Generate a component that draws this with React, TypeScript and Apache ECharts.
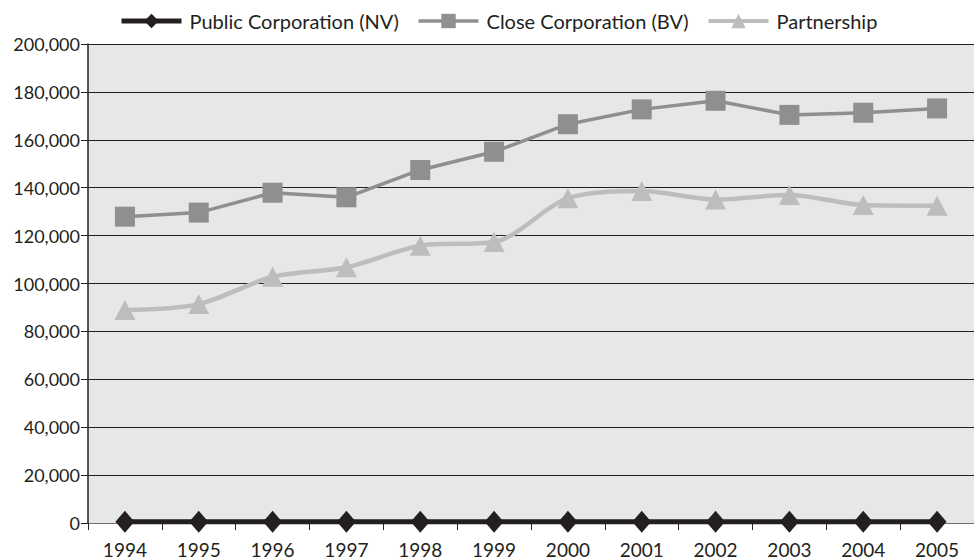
import React, { useEffect, useRef } from "react";
import * as echarts from "echarts";

const years = ["1994", "1995", "1996", "1997", "1998", "1999", "2000", "2001", "2002", "2003", "2004", "2005"];
const publicCorp = [500, 500, 500, 500, 500, 500, 500, 500, 500, 500, 500, 500];
const closeCorp = [127900, 129600, 137900, 136000, 147400, 155000, 166500, 172700, 176300, 170400, 171300, 173100];
const partnership = [88900, 91400, 102800, 106800, 115800, 117300, 135600, 138600, 135100, 137000, 132800, 132500];
const yTicks = [0, 20000, 40000, 60000, 80000, 100000, 120000, 140000, 160000, 180000, 200000];

const FONT = "Lato, 'Open Sans', sans-serif";
const INK = "#231f20";

export default function App() {
  const ref = useRef<HTMLDivElement>(null);
  useEffect(() => {
    const chart = echarts.init(ref.current!, null, { renderer: "svg" });
    chart.setOption({
      animation: false,
      textStyle: { fontFamily: FONT, color: INK },
      legend: {
        top: 6,
        left: 114,
        itemWidth: 60,
        itemHeight: 18,
        itemGap: 18,
        textStyle: { fontSize: 20, color: INK, fontFamily: FONT, padding: [0, 0, 0, 3] },
        data: [
          { name: "Public Corporation (NV)", lineStyle: { width: 5 } },
          { name: "Close Corporation (BV)", lineStyle: { width: 3.5 } },
          { name: "Partnership", lineStyle: { width: 4 } },
        ],
      },
      grid: {
        left: 88,
        right: 0,
        top: 44,
        bottom: 37,
        show: true,
        backgroundColor: "#e6e7e8",
        borderWidth: 0,
      },
      xAxis: {
        type: "category",
        data: years,
        boundaryGap: true,
        axisLine: { show: true, lineStyle: { color: "#6d6e70", width: 1 } },
        axisTick: { show: true, alignWithLabel: false, length: 7, lineStyle: { color: INK, width: 1 } },
        axisLabel: { fontSize: 19, color: INK, margin: 17, fontFamily: FONT },
      },
      yAxis: {
        type: "value",
        min: 0,
        max: 200000,
        interval: 20000,
        axisLine: { show: true, lineStyle: { color: INK, width: 1.5 } },
        axisTick: { show: true, length: 7, lineStyle: { color: INK, width: 1 } },
        axisLabel: {
          fontSize: 18,
          color: INK,
          margin: 8,
          fontFamily: FONT,
          formatter: (v: number) => (yTicks.includes(v) ? v.toLocaleString("en-US") : ""),
        },
        splitLine: { show: true, lineStyle: { color: INK, width: 1.2 } },
      },
      series: [
        {
          name: "Public Corporation (NV)",
          type: "line",
          data: publicCorp,
          symbol: "diamond",
          symbolSize: [19, 22],
          lineStyle: { color: INK, width: 5 },
          itemStyle: { color: INK },
          z: 5,
        },
        {
          name: "Close Corporation (BV)",
          type: "line",
          data: closeCorp,
          symbol: "rect",
          symbolSize: 20,
          lineStyle: { color: "#8e8f91", width: 3.5 },
          itemStyle: { color: "#8e8f91" },
          z: 4,
        },
        {
          name: "Partnership",
          type: "line",
          data: partnership,
          symbol: "triangle",
          symbolSize: [21, 20],
          smooth: 0.3,
          lineStyle: { color: "#bcbdbf", width: 4.5 },
          itemStyle: { color: "#bcbdbf" },
          z: 3,
        },
      ],
    });
    return () => chart.dispose();
  }, []);
  return (
    <div
      ref={ref}
      style={{ position: "absolute", left: 0, top: 0, width: 974, height: 560, background: "#ffffff" }}
    />
  );
}
